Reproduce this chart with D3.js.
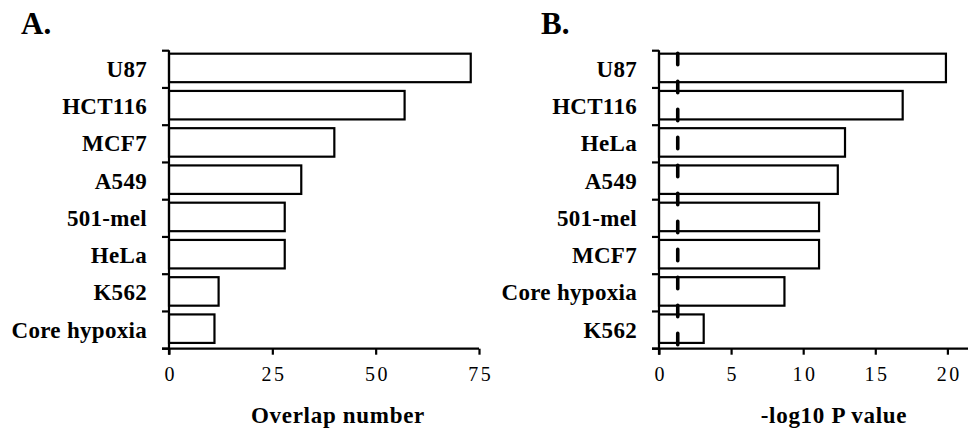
<!DOCTYPE html>
<html>
<head>
<meta charset="utf-8">
<script src="https://cdn.jsdelivr.net/npm/d3@7"></script>
<style>
  html, body { margin: 0; padding: 0; background: #fff; }
  svg { display: block; }
  text { font-family: "Liberation Serif", "Times New Roman", serif; fill: #000; }
</style>
</head>
<body>
<svg id="chart" width="968" height="428"></svg>
<script>
// Panel A: number of overlapping genes per cell line signature
const categoriesA = ["U87", "HCT116", "MCF7", "A549", "501-mel", "HeLa", "K562", "Core hypoxia"];
const overlapNumbers = [73, 57, 40, 32, 28, 28, 12, 11];
const ticksA = [0, 25, 50, 75];

// Panel B: enrichment significance per signature
const categoriesB = ["U87", "HCT116", "HeLa", "A549", "501-mel", "MCF7", "Core hypoxia", "K562"];
const negLogP = [19.9, 16.9, 12.9, 12.4, 11.1, 11.1, 8.7, 3.1];
const ticksB = [0, 5, 10, 15, 20];
const significanceThreshold = 1.3; // -log10(0.05)

const svg = d3.select("#chart");

const plotTop = 50.7, plotBottom = 348.7;
const lineW = 2.2;

function drawPanel(opts) {
  const g = svg.append("g");
  const x = d3.scaleLinear().domain(opts.domain).range(opts.range);
  const y = d3.scaleBand().domain(opts.categories).range([plotTop, plotBottom]).padding(0);
  const step = y.step();
  const x0 = x(0);

  // bars
  g.selectAll("rect.bar")
    .data(opts.categories.map((c, i) => ({ c, v: opts.values[i] })))
    .join("rect")
    .attr("class", "bar")
    .attr("x", x0)
    .attr("y", d => y(d.c) + step * 0.08)
    .attr("width", d => x(d.v) - x0)
    .attr("height", step * 0.765)
    .attr("fill", "#fff")
    .attr("stroke", "#000")
    .attr("stroke-width", lineW);

  // y axis: ticks sit on band boundaries
  const boundaries = opts.categories.map(c => y(c)).concat([plotBottom]);
  g.append("line")
    .attr("x1", x0).attr("x2", x0)
    .attr("y1", plotTop - 0.5).attr("y2", plotBottom + 6)
    .attr("stroke", "#000").attr("stroke-width", lineW);
  g.selectAll("line.ytick")
    .data(boundaries)
    .join("line")
    .attr("class", "ytick")
    .attr("x1", x0 - 7).attr("x2", x0)
    .attr("y1", d => d).attr("y2", d => d)
    .attr("stroke", "#000").attr("stroke-width", lineW);

  // category labels
  g.selectAll("text.cat")
    .data(opts.categories)
    .join("text")
    .attr("class", "cat")
    .attr("x", x0 - 22)
    .attr("y", d => y(d) + step / 2 + 7.6)
    .attr("text-anchor", "end")
    .attr("font-size", 23)
    .attr("font-weight", "bold")
    .attr("letter-spacing", 0.3)
    .text(d => d);

  // x axis
  const xAxis = d3.axisBottom(x).tickValues(opts.ticks).tickSize(6).tickSizeOuter(0).tickFormat(d3.format("d"));
  const ax = g.append("g").attr("transform", `translate(0,${plotBottom})`).call(xAxis);
  ax.select(".domain").remove();
  ax.selectAll(".tick line").attr("stroke", "#000").attr("stroke-width", lineW);
  ax.selectAll(".tick text")
    .attr("y", 32.8)
    .attr("dy", 0)
    .attr("dx", 1.25)
    .attr("font-size", 20)
    .attr("letter-spacing", 2.5)
    .attr("font-family", "Liberation Serif, Times New Roman, serif")
    .attr("fill", "#000");
  g.append("line")
    .attr("x1", x0 - 7).attr("x2", opts.range[1])
    .attr("y1", plotBottom).attr("y2", plotBottom)
    .attr("stroke", "#000").attr("stroke-width", lineW);

  // axis title
  g.append("text")
    .attr("x", opts.titleX)
    .attr("y", 423)
    .attr("text-anchor", "middle")
    .attr("font-size", 23)
    .attr("font-weight", "bold")
    .attr("letter-spacing", 0.7)
    .text(opts.title);

  // panel letter
  g.append("text")
    .attr("x", opts.letterX)
    .attr("y", 34.3)
    .attr("font-size", 31)
    .attr("font-weight", "bold")
    .text(opts.letter);

  return { g, x, y };
}

drawPanel({
  categories: categoriesA, values: overlapNumbers, ticks: ticksA,
  domain: [0, 75], range: [169, 479],
  title: "Overlap number", titleX: 338, letter: "A.", letterX: 21
});

const pB = drawPanel({
  categories: categoriesB, values: negLogP, ticks: ticksB,
  domain: [0, 21.43], range: [659, 968],
  title: "-log10 P value", titleX: 834, letter: "B.", letterX: 541
});

// significance threshold (P = 0.05)
pB.g.append("line")
  .attr("x1", pB.x(significanceThreshold)).attr("x2", pB.x(significanceThreshold))
  .attr("y1", plotTop + 2.5).attr("y2", plotBottom)
  .attr("stroke", "#000")
  .attr("stroke-width", 3.6)
  .attr("stroke-linecap", "round")
  .attr("stroke-dasharray", "11.5 16.5");
</script>
</body>
</html>
